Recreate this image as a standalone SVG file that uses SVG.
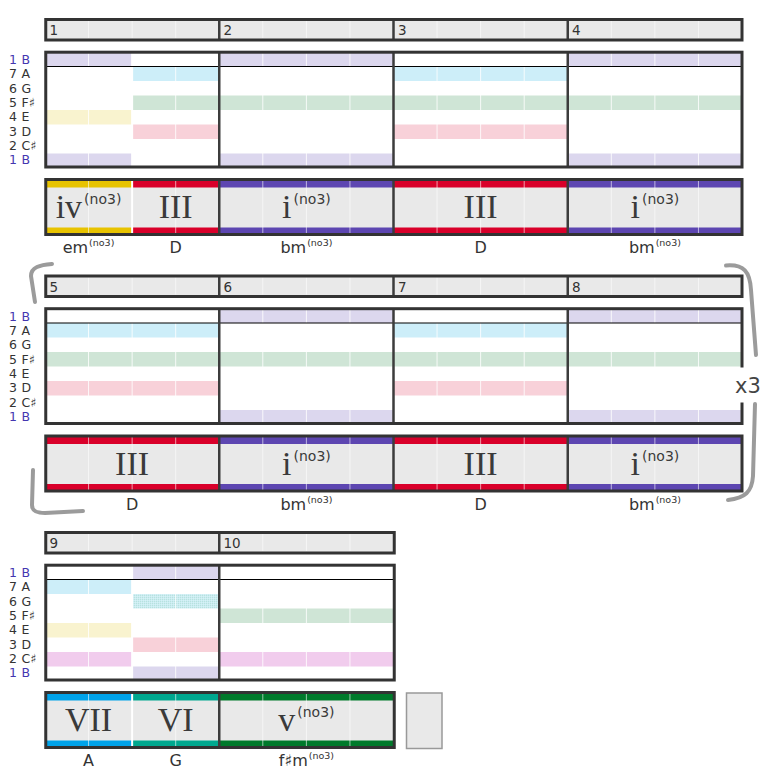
<svg xmlns="http://www.w3.org/2000/svg" width="765" height="778" viewBox="0 0 765 778">
<defs>
<pattern id="dither" width="2" height="2" patternUnits="userSpaceOnUse">
<rect width="2" height="2" fill="#c9ecf3"/>
<rect width="1" height="1" fill="#b9e2dc"/>
<rect x="1" y="1" width="1" height="1" fill="#d8f1f5"/>
</pattern>
</defs>
<style>
.hdr{fill:#e9e9e9}
.grid{fill:#fff}
.frame{fill:none;stroke:#333;stroke-width:3}
.box{fill:#e9e9e9}
.bar{stroke:#3c3c3c;stroke-width:2.5}
.beat{stroke:#fff;stroke-width:1;opacity:.85}
.fbeat{stroke:#fff;stroke-width:1;opacity:.6}
.chg{stroke:#fff;stroke-width:2}
.sep{stroke:#000;stroke-width:1.2}
.nB{fill:#dcd7ee}.nA{fill:#cdeef9}.nG{fill:url(#dither)}.nF{fill:#cfe5d6}.nE{fill:#f9f3cf}.nD{fill:#f8d1d9}.nC{fill:#f1cced}
.cY{fill:#e8c300}.cR{fill:#d9002a}.cP{fill:#5d46b1}.cBl{fill:#00a3ea}.cT{fill:#00a88f}.cG{fill:#007a2b}
.num{font-family:"DejaVu Sans",sans-serif;font-size:13.5px;fill:#333}
.lab{font-family:"DejaVu Sans",sans-serif;font-size:12.5px;fill:#333}
.lab.b{fill:#4436b0}
.rn{font-family:"Liberation Serif",serif;font-size:34px;fill:#3a3a3a;text-anchor:middle}
.sup{font-family:"DejaVu Sans",sans-serif;font-size:14px}
.cl{font-family:"DejaVu Sans",sans-serif;font-size:16px;fill:#333;text-anchor:middle}
.csup{font-size:9.5px}
.brk{fill:none;stroke:#9b9b9b;stroke-width:4;stroke-linecap:round}
.ph{fill:#e9e9e9;stroke:#999;stroke-width:1.5}
</style>

<!-- ROW 1 -->
<g id="row1">
 <g id="row1-labels">
  <text class="lab b" y="64"><tspan x="9">1</tspan><tspan x="21.5">B</tspan></text>
  <text class="lab" y="78.35"><tspan x="9">7</tspan><tspan x="21.5">A</tspan></text>
  <text class="lab" y="92.7"><tspan x="9">6</tspan><tspan x="21.5">G</tspan></text>
  <text class="lab" y="107.05"><tspan x="9">5</tspan><tspan x="21.5">F♯</tspan></text>
  <text class="lab" y="121.4"><tspan x="9">4</tspan><tspan x="21.5">E</tspan></text>
  <text class="lab" y="135.75"><tspan x="9">3</tspan><tspan x="21.5">D</tspan></text>
  <text class="lab" y="150.1"><tspan x="9">2</tspan><tspan x="21.5">C♯</tspan></text>
  <text class="lab b" y="164.45"><tspan x="9">1</tspan><tspan x="21.5">B</tspan></text>
 </g>
 <g id="row1-header">
  <rect class="hdr" x="45.75" y="19.5" width="696.25" height="20.5"/>
  <path class="fbeat" d="M88.56,21V38M132.13,21V38M175.69,21V38M262.81,21V38M306.38,21V38M349.94,21V38M437.06,21V38M480.63,21V38M524.19,21V38M611.31,21V38M654.88,21V38M698.44,21V38"/>
  <path class="bar" d="M219.25,19.5V40M393.5,19.5V40M567.75,19.5V40"/>
  <rect class="frame" x="45.75" y="19.5" width="696.25" height="20.5"/>
  <text class="num" x="49.5" y="35">1</text>
  <text class="num" x="223.5" y="35">2</text>
  <text class="num" x="398" y="35">3</text>
  <text class="num" x="572" y="35">4</text>
 </g>
 <g id="row1-grid">
  <rect class="grid" x="45.75" y="52.2" width="696.25" height="114.8"/>
  <g id="m1-notes">
   <rect class="nB" x="45" y="52" width="87.13" height="14.5"/>
   <rect class="nE" x="45" y="110" width="87.13" height="14.5"/>
   <rect class="nB" x="45" y="153.5" width="87.13" height="14.5"/>
   <rect class="nA" x="132.13" y="66.5" width="87.12" height="14.5"/>
   <rect class="nF" x="132.13" y="95.5" width="87.12" height="14.5"/>
   <rect class="nD" x="132.13" y="124.5" width="87.12" height="14.5"/>
  </g>
  <g id="m2-notes">
   <rect class="nB" x="219.25" y="52" width="174.25" height="14.5"/>
   <rect class="nF" x="219.25" y="95.5" width="174.25" height="14.5"/>
   <rect class="nB" x="219.25" y="153.5" width="174.25" height="14.5"/>
  </g>
  <g id="m3-notes">
   <rect class="nA" x="393.5" y="66.5" width="174.25" height="14.5"/>
   <rect class="nF" x="393.5" y="95.5" width="174.25" height="14.5"/>
   <rect class="nD" x="393.5" y="124.5" width="174.25" height="14.5"/>
  </g>
  <g id="m4-notes">
   <rect class="nB" x="567.75" y="52" width="174.25" height="14.5"/>
   <rect class="nF" x="567.75" y="95.5" width="174.25" height="14.5"/>
   <rect class="nB" x="567.75" y="153.5" width="174.25" height="14.5"/>
  </g>
  <path class="beat" d="M88.56,53V166M175.69,53V166M262.81,53V166M306.38,53V166M349.94,53V166M437.06,53V166M480.63,53V166M524.19,53V166M611.31,53V166M654.88,53V166M698.44,53V166"/>
  <path class="chg" d="M132.13,53V166"/>
  <path class="sep" d="M46,66.5H742"/>
  <path class="bar" d="M219.25,52V167M393.5,52V167M567.75,52V167"/>
  <rect class="frame" x="45.75" y="52.2" width="696.25" height="114.8"/>
 </g>
 <g id="row1-chords">
  <rect class="box" x="45.75" y="179.5" width="696.25" height="55"/>
  <rect class="cY" x="45" y="180.5" width="87.13" height="7"/><rect class="cY" x="45" y="227.5" width="87.13" height="6.5"/>
  <rect class="cR" x="132.13" y="180.5" width="87.12" height="7"/><rect class="cR" x="132.13" y="227.5" width="87.12" height="6.5"/>
  <rect class="cP" x="219.25" y="180.5" width="174.25" height="7"/><rect class="cP" x="219.25" y="227.5" width="174.25" height="6.5"/>
  <rect class="cR" x="393.5" y="180.5" width="174.25" height="7"/><rect class="cR" x="393.5" y="227.5" width="174.25" height="6.5"/>
  <rect class="cP" x="567.75" y="180.5" width="174.25" height="7"/><rect class="cP" x="567.75" y="227.5" width="174.25" height="6.5"/>
  <path class="fbeat" d="M88.56,180V234M175.69,180V234M262.81,180V234M306.38,180V234M349.94,180V234M437.06,180V234M480.63,180V234M524.19,180V234M611.31,180V234M654.88,180V234M698.44,180V234"/>
  <path class="chg" d="M132.13,180V234"/>
  <path class="bar" d="M219.25,179.5V234.5M393.5,179.5V234.5M567.75,179.5V234.5"/>
  <rect class="frame" x="45.75" y="179.5" width="696.25" height="55"/>
  <text class="rn" x="88.5" y="218">iv<tspan class="sup" dx="2" dy="-14">(no3)</tspan></text>
  <text class="rn" x="175.7" y="218">III</text>
  <text class="rn" x="306.4" y="218">i<tspan class="sup" dx="2" dy="-14">(no3)</tspan></text>
  <text class="rn" x="480.6" y="218">III</text>
  <text class="rn" x="654.9" y="218">i<tspan class="sup" dx="2" dy="-14">(no3)</tspan></text>
  <text class="cl" x="88.5" y="253">em<tspan class="csup" dx="1" dy="-7">(no3)</tspan></text>
  <text class="cl" x="175.7" y="253">D</text>
  <text class="cl" x="306.4" y="253">bm<tspan class="csup" dx="1" dy="-7">(no3)</tspan></text>
  <text class="cl" x="480.6" y="253">D</text>
  <text class="cl" x="654.9" y="253">bm<tspan class="csup" dx="1" dy="-7">(no3)</tspan></text>
 </g>
</g>

<!-- ROW 2 -->
<g id="row2" transform="translate(0,256.5)">
 <g id="row2-labels">
  <text class="lab b" y="64"><tspan x="9">1</tspan><tspan x="21.5">B</tspan></text>
  <text class="lab" y="78.35"><tspan x="9">7</tspan><tspan x="21.5">A</tspan></text>
  <text class="lab" y="92.7"><tspan x="9">6</tspan><tspan x="21.5">G</tspan></text>
  <text class="lab" y="107.05"><tspan x="9">5</tspan><tspan x="21.5">F♯</tspan></text>
  <text class="lab" y="121.4"><tspan x="9">4</tspan><tspan x="21.5">E</tspan></text>
  <text class="lab" y="135.75"><tspan x="9">3</tspan><tspan x="21.5">D</tspan></text>
  <text class="lab" y="150.1"><tspan x="9">2</tspan><tspan x="21.5">C♯</tspan></text>
  <text class="lab b" y="164.45"><tspan x="9">1</tspan><tspan x="21.5">B</tspan></text>
 </g>
 <g id="row2-header">
  <rect class="hdr" x="45.75" y="19.5" width="696.25" height="20.5"/>
  <path class="fbeat" d="M88.56,21V38M132.13,21V38M175.69,21V38M262.81,21V38M306.38,21V38M349.94,21V38M437.06,21V38M480.63,21V38M524.19,21V38M611.31,21V38M654.88,21V38M698.44,21V38"/>
  <path class="bar" d="M219.25,19.5V40M393.5,19.5V40M567.75,19.5V40"/>
  <rect class="frame" x="45.75" y="19.5" width="696.25" height="20.5"/>
  <text class="num" x="49.5" y="35">5</text>
  <text class="num" x="223.5" y="35">6</text>
  <text class="num" x="398" y="35">7</text>
  <text class="num" x="572" y="35">8</text>
 </g>
 <g id="row2-grid">
  <rect class="grid" x="45.75" y="52.2" width="696.25" height="114.8"/>
  <g id="m5-notes">
   <rect class="nA" x="45" y="66.5" width="174.25" height="14.5"/>
   <rect class="nF" x="45" y="95.5" width="174.25" height="14.5"/>
   <rect class="nD" x="45" y="124.5" width="174.25" height="14.5"/>
  </g>
  <g id="m6-notes">
   <rect class="nB" x="219.25" y="52" width="174.25" height="14.5"/>
   <rect class="nF" x="219.25" y="95.5" width="174.25" height="14.5"/>
   <rect class="nB" x="219.25" y="153.5" width="174.25" height="14.5"/>
  </g>
  <g id="m7-notes">
   <rect class="nA" x="393.5" y="66.5" width="174.25" height="14.5"/>
   <rect class="nF" x="393.5" y="95.5" width="174.25" height="14.5"/>
   <rect class="nD" x="393.5" y="124.5" width="174.25" height="14.5"/>
  </g>
  <g id="m8-notes">
   <rect class="nB" x="567.75" y="52" width="174.25" height="14.5"/>
   <rect class="nF" x="567.75" y="95.5" width="174.25" height="14.5"/>
   <rect class="nB" x="567.75" y="153.5" width="174.25" height="14.5"/>
  </g>
  <path class="beat" d="M88.56,53V166M132.13,53V166M175.69,53V166M262.81,53V166M306.38,53V166M349.94,53V166M437.06,53V166M480.63,53V166M524.19,53V166M611.31,53V166M654.88,53V166M698.44,53V166"/>
  <path class="sep" d="M46,66.5H742"/>
  <path class="bar" d="M219.25,52V167M393.5,52V167M567.75,52V167"/>
  <rect class="frame" x="45.75" y="52.2" width="696.25" height="114.8"/>
 </g>
 <g id="row2-chords">
  <rect class="box" x="45.75" y="179.5" width="696.25" height="55"/>
  <rect class="cR" x="45" y="180.5" width="174.25" height="7"/><rect class="cR" x="45" y="227.5" width="174.25" height="6.5"/>
  <rect class="cP" x="219.25" y="180.5" width="174.25" height="7"/><rect class="cP" x="219.25" y="227.5" width="174.25" height="6.5"/>
  <rect class="cR" x="393.5" y="180.5" width="174.25" height="7"/><rect class="cR" x="393.5" y="227.5" width="174.25" height="6.5"/>
  <rect class="cP" x="567.75" y="180.5" width="174.25" height="7"/><rect class="cP" x="567.75" y="227.5" width="174.25" height="6.5"/>
  <path class="fbeat" d="M88.56,180V234M132.13,180V234M175.69,180V234M262.81,180V234M306.38,180V234M349.94,180V234M437.06,180V234M480.63,180V234M524.19,180V234M611.31,180V234M654.88,180V234M698.44,180V234"/>
  <path class="bar" d="M219.25,179.5V234.5M393.5,179.5V234.5M567.75,179.5V234.5"/>
  <rect class="frame" x="45.75" y="179.5" width="696.25" height="55"/>
  <text class="rn" x="132.1" y="218">III</text>
  <text class="rn" x="306.4" y="218">i<tspan class="sup" dx="2" dy="-14">(no3)</tspan></text>
  <text class="rn" x="480.6" y="218">III</text>
  <text class="rn" x="654.9" y="218">i<tspan class="sup" dx="2" dy="-14">(no3)</tspan></text>
  <text class="cl" x="132.1" y="253">D</text>
  <text class="cl" x="306.4" y="253">bm<tspan class="csup" dx="1" dy="-7">(no3)</tspan></text>
  <text class="cl" x="480.6" y="253">D</text>
  <text class="cl" x="654.9" y="253">bm<tspan class="csup" dx="1" dy="-7">(no3)</tspan></text>
 </g>
</g>

<!-- ROW 3 -->
<g id="row3" transform="translate(0,513)">
 <g id="row3-labels">
  <text class="lab b" y="64"><tspan x="9">1</tspan><tspan x="21.5">B</tspan></text>
  <text class="lab" y="78.35"><tspan x="9">7</tspan><tspan x="21.5">A</tspan></text>
  <text class="lab" y="92.7"><tspan x="9">6</tspan><tspan x="21.5">G</tspan></text>
  <text class="lab" y="107.05"><tspan x="9">5</tspan><tspan x="21.5">F♯</tspan></text>
  <text class="lab" y="121.4"><tspan x="9">4</tspan><tspan x="21.5">E</tspan></text>
  <text class="lab" y="135.75"><tspan x="9">3</tspan><tspan x="21.5">D</tspan></text>
  <text class="lab" y="150.1"><tspan x="9">2</tspan><tspan x="21.5">C♯</tspan></text>
  <text class="lab b" y="164.45"><tspan x="9">1</tspan><tspan x="21.5">B</tspan></text>
 </g>
 <g id="row3-header">
  <rect class="hdr" x="45.75" y="19.5" width="348.5" height="20.5"/>
  <path class="fbeat" d="M88.56,21V38M132.13,21V38M175.69,21V38M262.81,21V38M306.38,21V38M349.94,21V38"/>
  <path class="bar" d="M219.25,19.5V40"/>
  <rect class="frame" x="45.75" y="19.5" width="348.5" height="20.5"/>
  <text class="num" x="49.5" y="35">9</text>
  <text class="num" x="223.5" y="35">10</text>
 </g>
 <g id="row3-grid">
  <rect class="grid" x="45.75" y="52.2" width="348.5" height="114.8"/>
  <g id="m9-notes">
   <rect class="nA" x="45" y="66.5" width="87.13" height="14.5"/>
   <rect class="nE" x="45" y="110" width="87.13" height="14.5"/>
   <rect class="nC" x="45" y="139" width="87.13" height="14.5"/>
   <rect class="nB" x="132.13" y="52" width="87.12" height="14.5"/>
   <rect class="nG" x="132.13" y="81" width="87.12" height="14.5"/>
   <rect class="nD" x="132.13" y="124.5" width="87.12" height="14.5"/>
   <rect class="nB" x="132.13" y="153.5" width="87.12" height="14.5"/>
  </g>
  <g id="m10-notes">
   <rect class="nF" x="219.25" y="95.5" width="174.25" height="14.5"/>
   <rect class="nC" x="219.25" y="139" width="174.25" height="14.5"/>
  </g>
  <path class="beat" d="M88.56,53V166M175.69,53V166M262.81,53V166M306.38,53V166M349.94,53V166"/>
  <path class="chg" d="M132.13,53V166"/>
  <path class="sep" d="M46,66.5H394"/>
  <path class="bar" d="M219.25,52V167"/>
  <rect class="frame" x="45.75" y="52.2" width="348.5" height="114.8"/>
 </g>
 <g id="row3-chords">
  <rect class="box" x="45.75" y="179.5" width="348.5" height="55"/>
  <rect class="cBl" x="45" y="180.5" width="87.13" height="7"/><rect class="cBl" x="45" y="227.5" width="87.13" height="6.5"/>
  <rect class="cT" x="132.13" y="180.5" width="87.12" height="7"/><rect class="cT" x="132.13" y="227.5" width="87.12" height="6.5"/>
  <rect class="cG" x="219.25" y="180.5" width="174.25" height="7"/><rect class="cG" x="219.25" y="227.5" width="174.25" height="6.5"/>
  <path class="fbeat" d="M88.56,180V234M175.69,180V234M262.81,180V234M306.38,180V234M349.94,180V234"/>
  <path class="chg" d="M132.13,180V234"/>
  <path class="bar" d="M219.25,179.5V234.5"/>
  <rect class="frame" x="45.75" y="179.5" width="348.5" height="55"/>
  <text class="rn" x="88.5" y="218">VII</text>
  <text class="rn" x="175.7" y="218">VI</text>
  <text class="rn" x="306.4" y="218">v<tspan class="sup" dx="2" dy="-14">(no3)</tspan></text>
  <text class="cl" x="88.5" y="253">A</text>
  <text class="cl" x="175.7" y="253">G</text>
  <text class="cl" x="306.4" y="253">f♯m<tspan class="csup" dx="1" dy="-7">(no3)</tspan></text>
  <rect id="placeholder" class="ph" x="406.5" y="180" width="35.5" height="55.5"/>
 </g>
</g>

<!-- REPEAT BRACKET -->
<g id="connectors">
 <rect x="733" y="367.5" width="32" height="35" fill="#fff"/>
 <path class="brk" d="M52,264 C40,265 31,267 31,276 L35,302"/>
 <path class="brk" d="M33,470 L32,505 C32,511 36,513 45,513 L83,511"/>
 <path class="brk" d="M726,265.5 C744,264 750,272 751,290 L756,355"/>
 <path class="brk" d="M755,404 L753,476 C752,492 745,498 728,500"/>
 <text x="735" y="393" font-family="DejaVu Sans, sans-serif" font-size="21" fill="#444">x3</text>
</g>
</svg>
